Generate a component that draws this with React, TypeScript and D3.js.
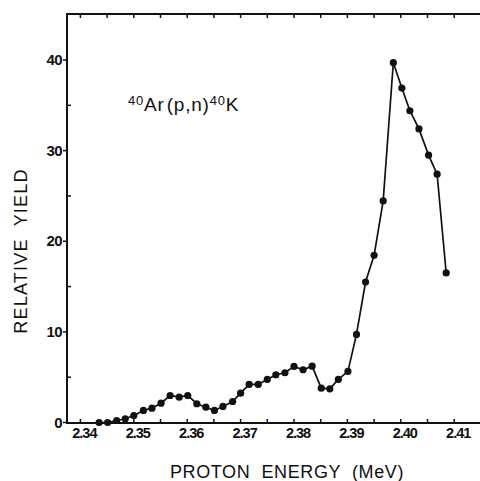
import React from "react";
import * as d3 from "d3";

const energy = [
  2.3435, 2.3451, 2.3468, 2.3484, 2.35, 2.3518, 2.3534, 2.3551, 2.3568, 2.3585,
  2.3601, 2.3618, 2.3635, 2.3651, 2.3667, 2.3685, 2.37, 2.3716, 2.3733, 2.375,
  2.3766, 2.3783, 2.38, 2.3817, 2.3834, 2.3851, 2.3867, 2.3883, 2.3901, 2.3917,
  2.3934, 2.395, 2.3967, 2.3986, 2.4002, 2.4017, 2.4034, 2.4052, 2.4068, 2.4085,
];
const yieldVals = [
  0, 0, 0.22, 0.41, 0.77, 1.33, 1.58, 2.13, 2.98, 2.8,
  2.98, 2.07, 1.69, 1.33, 1.77, 2.32, 3.24, 4.2, 4.2, 4.75,
  5.27, 5.49, 6.19, 5.82, 6.22, 3.79, 3.72, 4.75, 5.64, 9.72,
  15.5, 18.45, 24.45, 39.7, 36.9, 34.4, 32.4, 29.5, 27.4, 16.5,
];
const xTickLabels = ["2.34", "2.35", "2.36", "2.37", "2.38", "2.39", "2.40", "2.41"];
const xTickValues = [2.34, 2.35, 2.36, 2.37, 2.38, 2.39, 2.4, 2.41];
const xMinorTicks = [2.345, 2.355, 2.365, 2.375, 2.385, 2.395, 2.405];
const yTickValues = [0, 10, 20, 30, 40];
const yMinorTicks = [5, 15, 25, 35];

export default function App() {
  const x = d3.scaleLinear().domain([2.34, 2.41]).range([80.4, 454.2]);
  const y = d3.scaleLinear().domain([0, 40]).range([422.5, 60]);
  const left = 67;
  const top = 14;
  const bottom = 423;
  const data = energy.map((e, i) => ({ e, v: yieldVals[i] }));
  const line = d3
    .line<{ e: number; v: number }>()
    .x((d) => x(d.e))
    .y((d) => y(d.v));
  const font = "'Liberation Sans', Arial, sans-serif";
  const allX = [...xTickValues, ...xMinorTicks];
  return (
    <svg
      width={480}
      height={481}
      style={{ position: "absolute", left: 0, top: 0, background: "#fff" }}
    >
      <rect width={480} height={481} fill="#fff" />
      {/* frame */}
      <line x1={left} y1={top} x2={480} y2={top} stroke="#111" strokeWidth={2} />
      <line x1={left} y1={top - 1} x2={left} y2={bottom + 1} stroke="#111" strokeWidth={2} />
      <line x1={left - 1} y1={bottom} x2={480} y2={bottom} stroke="#111" strokeWidth={2} />
      {/* x ticks */}
      {allX.map((t) => (
        <g key={"xt" + t}>
          <line x1={x(t)} x2={x(t)} y1={bottom} y2={bottom - 4} stroke="#111" strokeWidth={1.5} />
          <line x1={x(t)} x2={x(t)} y1={top} y2={top + 4} stroke="#111" strokeWidth={1.5} />
        </g>
      ))}
      {xTickValues.map((t, i) => (
        <text
          key={"xl" + t}
          x={x(t) + 4}
          y={437.5}
          textAnchor="middle"
          fontFamily={font}
          fontSize={14.5}
          fontWeight="bold"
          letterSpacing={-1}
          fill="#111"
        >
          {xTickLabels[i]}
        </text>
      ))}
      {/* y ticks */}
      {yTickValues.map((t) => (
        <g key={"yt" + t}>
          <line x1={left - 4} x2={left} y1={y(t)} y2={y(t)} stroke="#111" strokeWidth={1.5} />
          <text
            x={left - 5}
            y={y(t) + 5}
            textAnchor="end"
            fontFamily={font}
            fontSize={15}
            fontWeight="bold"
            letterSpacing={-0.6}
            fill="#111"
          >
            {t}
          </text>
        </g>
      ))}
      {yMinorTicks.map((t) => (
        <line key={"ym" + t} x1={left} x2={left + 4} y1={y(t)} y2={y(t)} stroke="#111" strokeWidth={1.5} />
      ))}
      {/* data */}
      <path d={line(data) || ""} fill="none" stroke="#111" strokeWidth={1.7} />
      {data.map((d, i) => (
        <circle key={"p" + i} cx={x(d.e)} cy={y(d.v)} r={3.6} fill="#111" />
      ))}
      {/* annotation */}
      <text x={128} y={111} fontFamily={font} fontSize={19} letterSpacing={0.8} fill="#111" style={{ whiteSpace: "pre" }}>
        <tspan fontSize={13} dy={-6}>40</tspan>
        <tspan dy={6}>Ar</tspan>
        <tspan dx={2}>(p,n)</tspan>
        <tspan fontSize={13} dy={-6}>40</tspan>
        <tspan dy={6}>K</tspan>
      </text>
      {/* axis titles */}
      <text
        x={287}
        y={478}
        textAnchor="middle"
        fontFamily={font}
        fontSize={18}
        letterSpacing={0.6}
        fill="#111"
        style={{ whiteSpace: "pre" }}
      >
        PROTON  ENERGY  (MeV)
      </text>
      <text
        transform="translate(27,251) rotate(-90)"
        textAnchor="middle"
        fontFamily={font}
        fontSize={18}
        letterSpacing={1.2}
        fill="#111"
        style={{ whiteSpace: "pre" }}
      >
        RELATIVE  YIELD
      </text>
    </svg>
  );
}
